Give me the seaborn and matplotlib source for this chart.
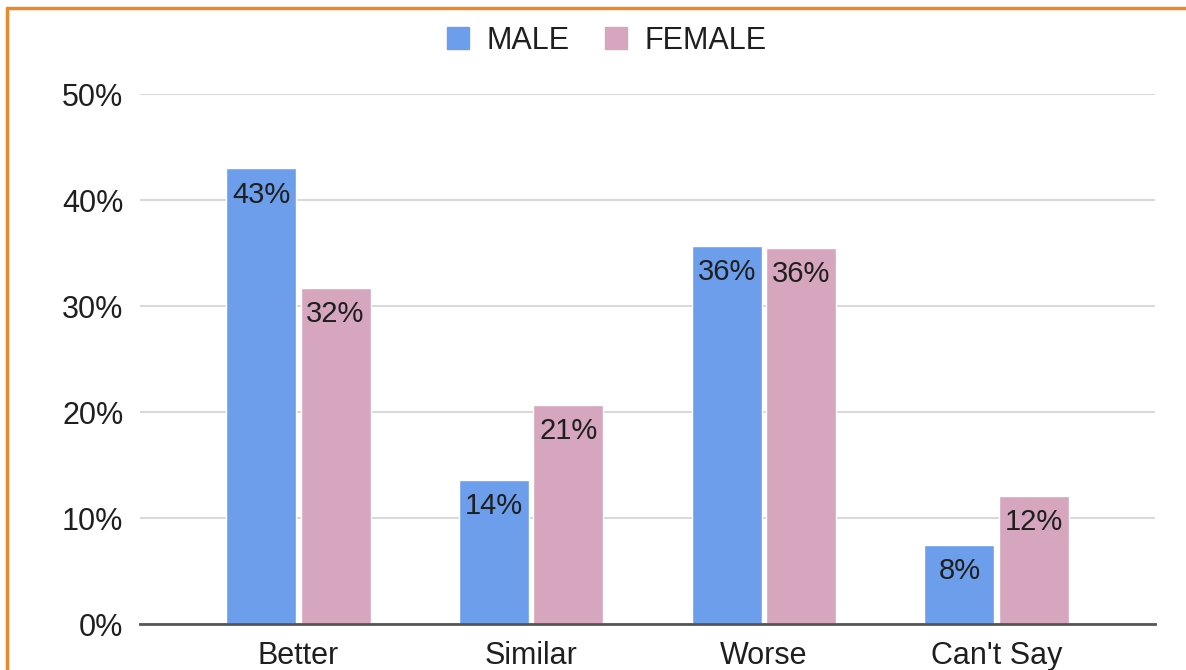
import pandas as pd
import seaborn as sns
import matplotlib.pyplot as plt
from matplotlib.lines import Line2D

# data
categories = ['Better', 'Similar', 'Worse', "Can't Say"]
male = [43.0, 13.6, 35.7, 7.5]
female = [31.7, 20.7, 35.5, 12.1]
male_labels = ['43%', '14%', '36%', '8%']
female_labels = ['32%', '21%', '36%', '12%']

df = pd.DataFrame({
    'category': categories * 2,
    'value': male + female,
    'gender': ['MALE'] * 4 + ['FEMALE'] * 4,
})

sns.set_theme(style='white')
plt.rcParams['font.family'] = ['Liberation Sans', 'DejaVu Sans']
txt = '#1f1f1f'

fig = plt.figure(figsize=(11.86, 6.7), dpi=100)
ax = fig.add_axes([140/1186, 1-624/670, (1155-140)/1186, (624-94)/670])

sns.barplot(data=df, x='category', y='value', hue='gender',
            palette={'MALE': '#6d9eeb', 'FEMALE': '#d5a6bd'},
            width=0.64, gap=0.06, saturation=1, ax=ax, legend=False)

ax.set_ylim(0, 50)
ax.set_xlim(-0.68, 3.68)
ax.set_yticks([0, 10, 20, 30, 40, 50])
ax.set_yticklabels(['0%', '10%', '20%', '30%', '40%', '50%'])
ax.yaxis.grid(True, color='#d9d9d9', linewidth=1.5)
ax.set_axisbelow(True)
for s in ['top', 'right', 'left']:
    ax.spines[s].set_visible(False)
ax.spines['bottom'].set_color('#555555')
ax.spines['bottom'].set_linewidth(2)
ax.tick_params(axis='both', length=0, labelsize=22, colors=txt)
ax.tick_params(axis='y', pad=12)
ax.tick_params(axis='x', pad=12)
ax.set_xlabel('')
ax.set_ylabel('')

# value labels just inside the bar tops
for cont, labs in zip(ax.containers, [male_labels, female_labels]):
    for bar, lab in zip(cont, labs):
        ax.annotate(lab, (bar.get_x() + bar.get_width()/2, bar.get_height()),
                    xytext=(0, -19), textcoords='offset points',
                    ha='center', va='center', fontsize=21, color=txt)

handles = [Line2D([], [], marker='s', linestyle='', markersize=16,
                  markerfacecolor=c, markeredgecolor=c)
           for c in ['#6d9eeb', '#d5a6bd']]
fig.legend(handles, ['MALE', 'FEMALE'], loc='center',
           bbox_to_anchor=(606/1186, 1-41/670), ncol=2, frameon=False,
           fontsize=22, labelcolor=txt, handlelength=0.8, handletextpad=0.55,
           columnspacing=1.1)

# orange frame (cut off at right and bottom)
fig.add_artist(Line2D([7/1186, 1], [1-8/670, 1-8/670], transform=fig.transFigure,
                      color='#e8892b', linewidth=2.5))
fig.add_artist(Line2D([7/1186, 7/1186], [0, 1-8/670], transform=fig.transFigure,
                      color='#e8892b', linewidth=2.5))

fig.savefig('out.png', dpi=100)
